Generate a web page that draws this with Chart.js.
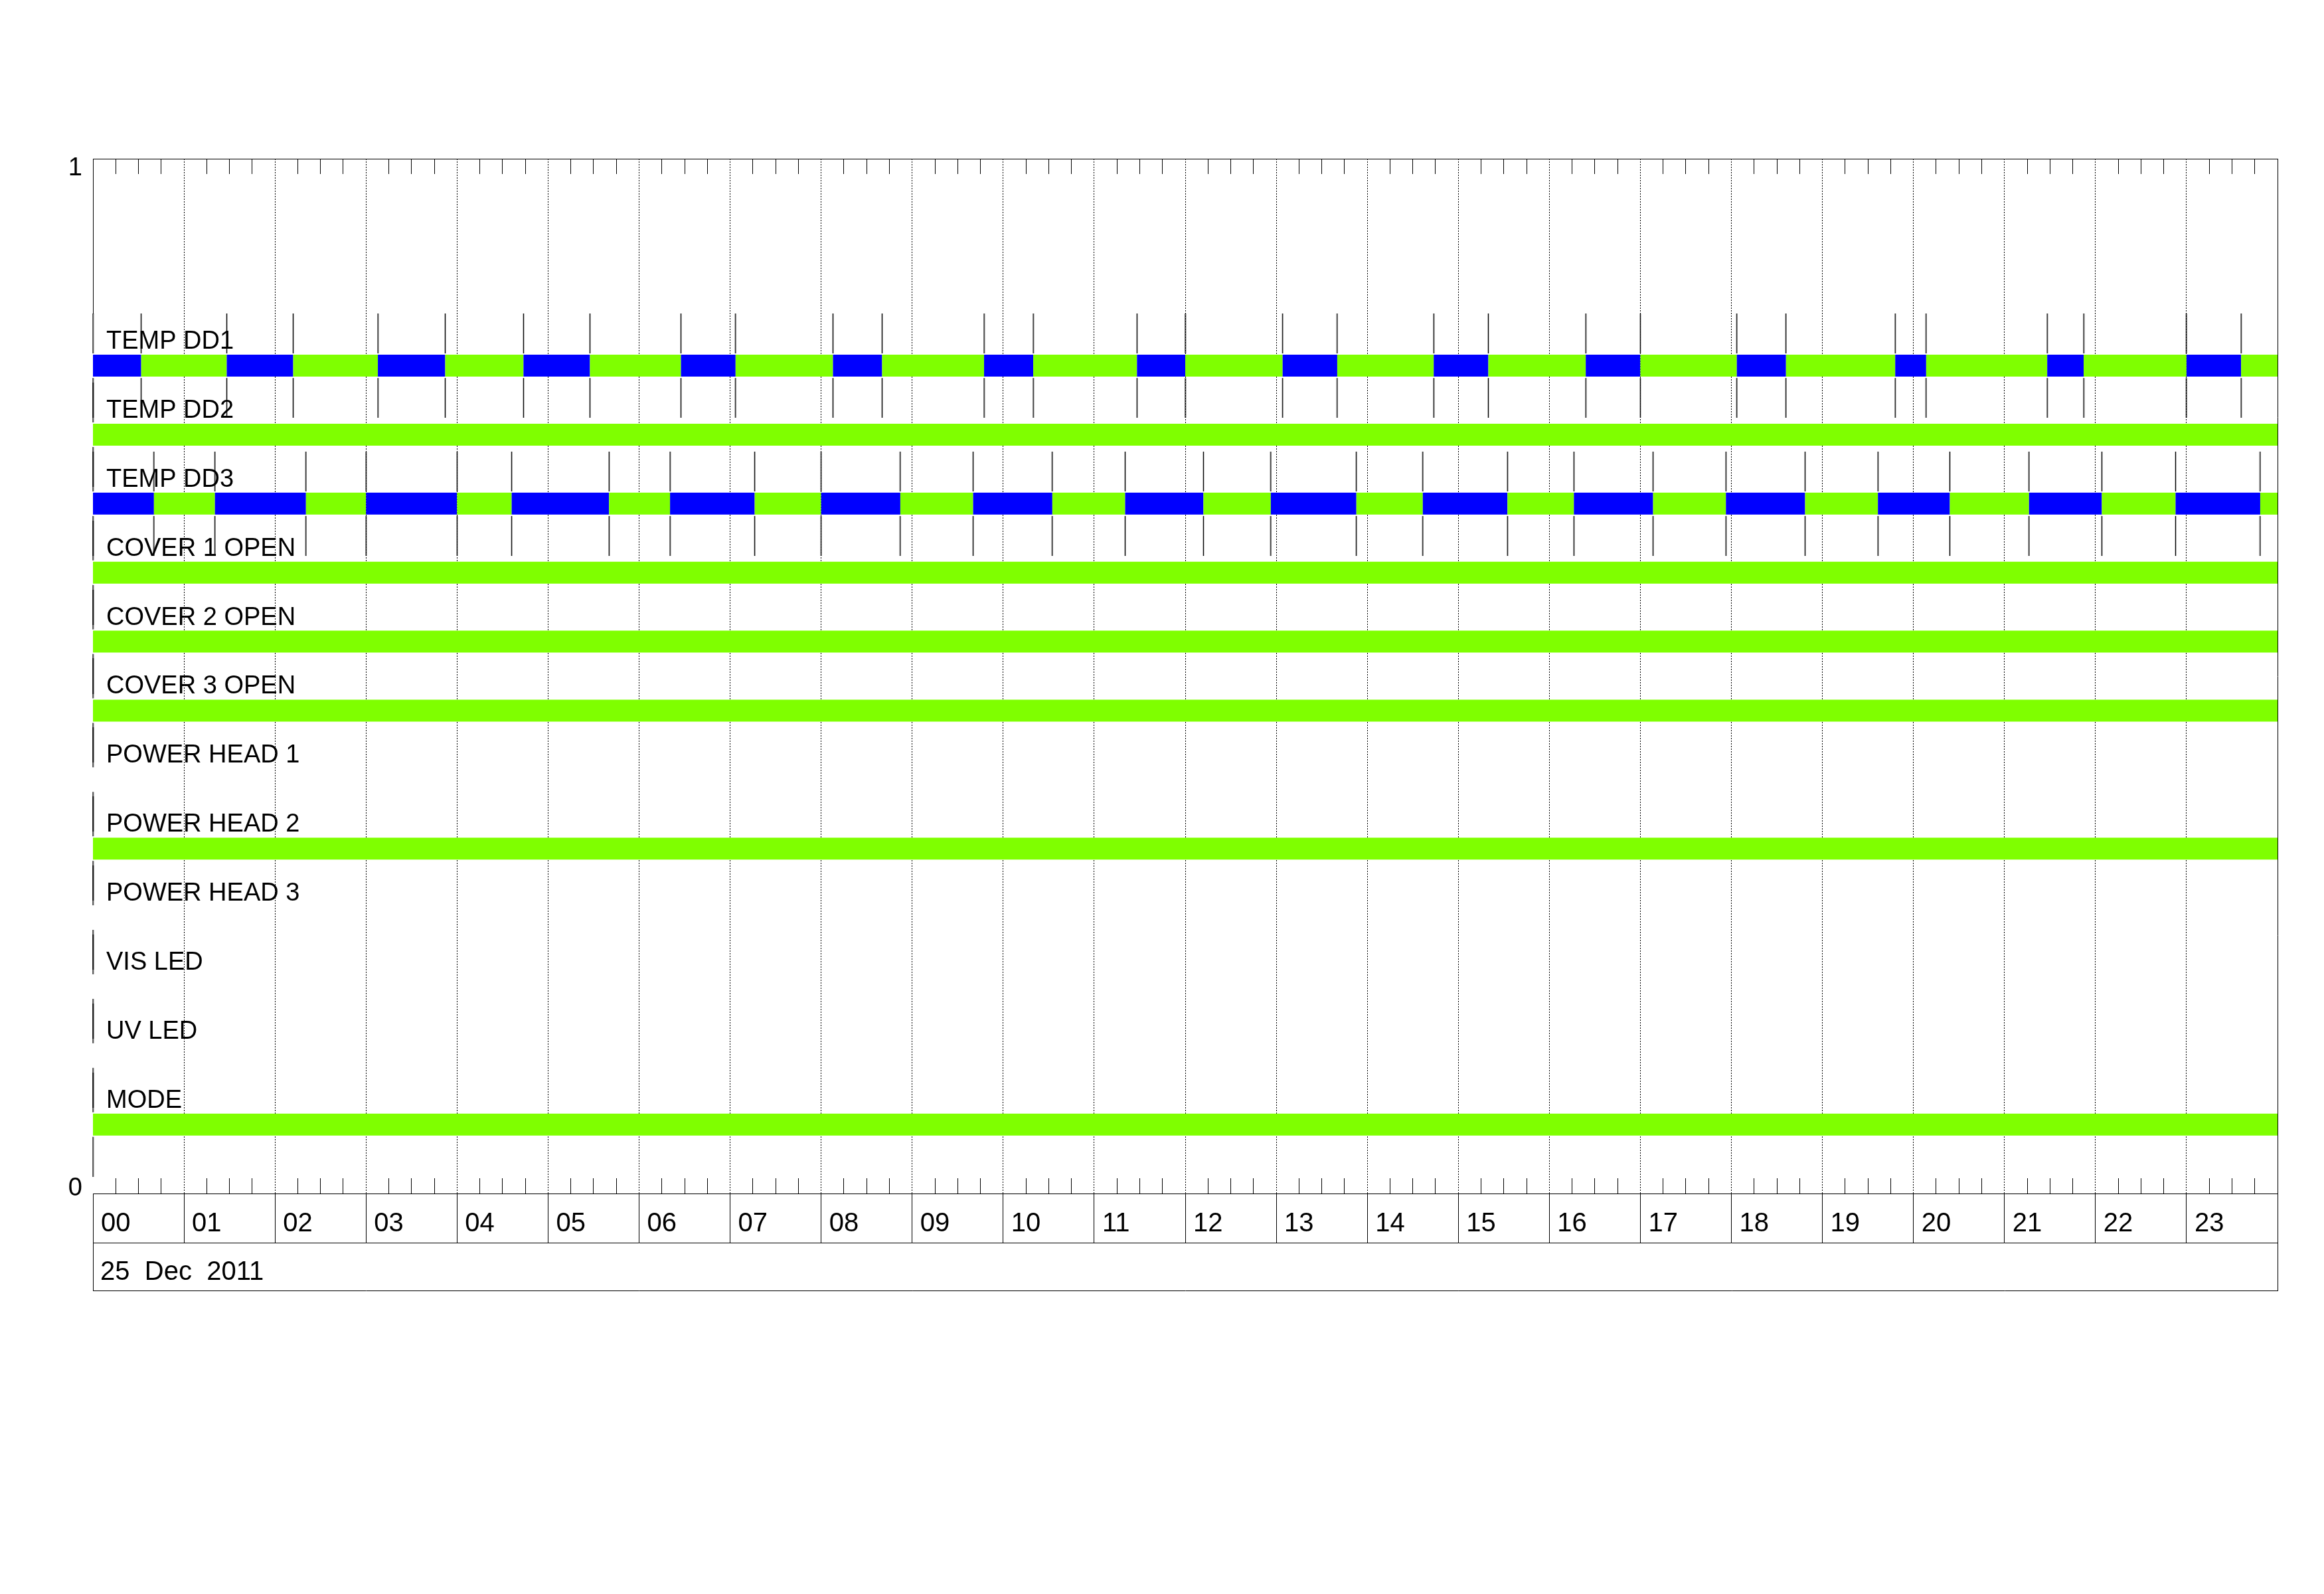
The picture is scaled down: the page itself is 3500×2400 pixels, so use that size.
<!DOCTYPE html>
<html>
<head>
<meta charset="utf-8">
<title>Channel states - 25 Dec 2011</title>
<script src="https://cdn.jsdelivr.net/npm/chart.js@4.4.1/dist/chart.umd.min.js"></script>
<style>
  html, body { margin: 0; padding: 0; background: #fff; }
  canvas { display: block; }
</style>
</head>
<body>
<canvas id="stateChart" width="3500" height="2400"></canvas>
<script>
// ================= DATA =================

const channels = [
    'TEMP DD1', 'TEMP DD2', 'TEMP DD3',
    'COVER 1 OPEN', 'COVER 2 OPEN', 'COVER 3 OPEN',
    'POWER HEAD 1', 'POWER HEAD 2', 'POWER HEAD 3',
    'VIS LED', 'UV LED', 'MODE'
];

// state at 00:00 -> 'on' (green), 'off' (blue), '' (no trace)
const startStates = ['off', 'on', 'off', 'on', 'on', 'on', '', 'on', '', '', '', 'on'];

// hours at which the channel toggles
const dd1Toggles = [0.53, 1.47, 2.20, 3.13, 3.87, 4.73, 5.46, 6.46, 7.06, 8.13,
    8.67, 9.79, 10.33, 11.47, 12.00, 13.07, 13.67, 14.73, 15.33, 16.40,
    17.00, 18.06, 18.60, 19.80, 20.14, 21.47, 21.87, 23.00, 23.60];
const dd3Toggles = [0.67, 1.34, 2.34, 3.00, 4.00, 4.60, 5.67, 6.34, 7.27, 8.00,
    8.87, 9.67, 10.54, 11.34, 12.20, 12.94, 13.88, 14.61, 15.54, 16.27,
    17.14, 17.94, 18.81, 19.61, 20.40, 21.27, 22.07, 22.88, 23.81];
const toggles = [dd1Toggles, [], dd3Toggles, [], [], [], [], [], [], [], [], []];

const hourLabels = ['00', '01', '02', '03', '04', '05', '06', '07', '08', '09', '10', '11',
    '12', '13', '14', '15', '16', '17', '18', '19', '20', '21', '22', '23'];
const yLabels = ['0', '1'];
const dayLabel = '25  Dec  2011';

// ================= HELPERS =================

const rowSlots = 15;            // 12 channels + empty space at the top
const level = i => (channels.length - i) / rowSlots;
const stateColors = { on: '#7fff00', off: '#0000ff' };
const BAR = 33;                 // trace thickness, px
const MARK_HALF = 78;           // half length of a toggle mark, px

function stateAt(i, seg) {
    if (seg % 2 === 0) return startStates[i];
    return startStates[i] === 'on' ? 'off' : 'on';
}

// toggle mark: a thin vertical line with a gap where the trace sits
function makeMark() {
    const c = document.createElement('canvas');
    c.width = 3;
    c.height = MARK_HALF * 2 + 1;
    const g = c.getContext('2d');
    g.fillStyle = '#000';
    const gap = Math.ceil(BAR / 2) + 1;
    g.fillRect(0.75, 0, 1.5, MARK_HALF - gap);
    g.fillRect(0.75, MARK_HALF + gap + 1, 1.5, MARK_HALF - gap);
    return c;
}

// ================= DATASETS =================

const markPoints = [];
channels.forEach((name, i) => {
    [0, ...toggles[i]].forEach(h => markPoints.push({ x: h, y: level(i) }));
});

const datasets = [{
    type: 'scatter',
    label: 'toggles',
    data: markPoints,
    pointStyle: makeMark(),
    pointRadius: 3,
    clip: false,
    order: 1
}];

channels.forEach((name, i) => {
    if (!startStates[i]) return;
    const hours = [0, ...toggles[i], 24];
    datasets.push({
        type: 'line',
        label: name,
        data: hours.map(h => ({ x: h, y: level(i) })),
        borderWidth: BAR,
        borderCapStyle: 'butt',
        borderColor: stateColors[startStates[i]],
        segment: {
            borderColor: ctx => stateColors[stateAt(i, ctx.p0DataIndex)]
        },
        pointRadius: 0,
        tension: 0,
        fill: false,
        order: 0
    });
});

// ================= FRAME PLUGIN =================

const framePlugin = {
    id: 'frameBoxes',
    afterDraw(chart) {
        const { ctx, chartArea } = chart;
        const x = chart.scales.x;
        const y = chart.scales.y;
        const px = v => Math.round(v) + 0.5;
        const rowBoxTop = x.top + x.options.grid.tickLength;
        const firstMarkTop = y.getPixelForValue(level(0)) - MARK_HALF;

        ctx.save();
        ctx.strokeStyle = '#000';
        ctx.lineWidth = 1;
        ctx.beginPath();
        // left edge above the first channel
        ctx.moveTo(px(chartArea.left), chartArea.top);
        ctx.lineTo(px(chartArea.left), firstMarkTop);
        // hour / date boxes
        ctx.moveTo(x.left, px(rowBoxTop));
        ctx.lineTo(x.right, px(rowBoxTop));
        ctx.moveTo(x.left, px(x.bottom));
        ctx.lineTo(x.right + 1, px(x.bottom));
        ctx.moveTo(px(x.left), x.top);
        ctx.lineTo(px(x.left), x.bottom);
        ctx.moveTo(px(x.right), x.top);
        ctx.lineTo(px(x.right), x.bottom);
        ctx.stroke();
        ctx.restore();
    }
};

// ================= CHART =================

Chart.defaults.font.family = "'Liberation Sans', Arial, sans-serif";
Chart.defaults.color = '#000';

const minorTickColor = ctx => (ctx.tick && ctx.tick.value % 1 === 0) ? 'rgba(0,0,0,0)' : '#000';

new Chart(document.getElementById('stateChart'), {
    type: 'line',
    data: { datasets },
    options: {
        responsive: false,
        animation: false,
        events: [],
        layout: { padding: { top: 239, left: 0, right: 70, bottom: 457 } },
        plugins: {
            legend: { display: false },
            tooltip: { enabled: false }
        },
        scales: {
            x: {
                type: 'linear',
                position: 'bottom',
                weight: 1,
                min: 0,
                max: 24,
                ticks: {
                    stepSize: 1,
                    autoSkip: false,
                    maxRotation: 0,
                    minRotation: 0,
                    align: 'start',
                    labelOffset: 12,
                    padding: -52,
                    font: { size: 40 },
                    callback: v => hourLabels[v] ?? ''
                },
                grid: {
                    color: ctx => (ctx.tick && ctx.tick.value % 24 === 0) ? 'rgba(0,0,0,0)' : '#000',
                    lineWidth: 1,
                    tickLength: 74,
                    tickColor: '#000',
                    tickWidth: 1
                },
                border: { display: true, color: '#000', width: 1, dash: [2, 2] },
                title: {
                    display: true,
                    text: ' ' + dayLabel,
                    align: 'start',
                    font: { size: 40 },
                    padding: { top: 0, bottom: 3 }
                },
                afterFit: s => { s.height = 146; }
            },
            xMinor: {
                type: 'linear',
                position: 'bottom',
                weight: 0,
                min: 0,
                max: 24,
                ticks: { stepSize: 0.25, display: false, autoSkip: false },
                grid: { drawOnChartArea: false, tickLength: -23, tickColor: minorTickColor, tickWidth: 1 },
                border: { display: false },
                afterFit: s => { s.height = 0; }
            },
            xTop: {
                type: 'linear',
                position: 'top',
                min: 0,
                max: 24,
                ticks: { stepSize: 0.25, display: false, autoSkip: false },
                grid: { drawOnChartArea: false, tickLength: -23, tickColor: minorTickColor, tickWidth: 1 },
                border: { display: true, color: '#000', width: 1 },
                afterFit: s => { s.height = 0; }
            },
            y: {
                type: 'linear',
                position: 'left',
                weight: 1,
                min: 0,
                max: 1,
                ticks: {
                    stepSize: 1,
                    padding: 16,
                    labelOffset: 4,
                    font: { size: 38, lineHeight: '22px' },
                    callback: v => v === 1 ? ['', yLabels[1]] : [yLabels[0], '']
                },
                grid: { display: false, drawTicks: false },
                border: { display: false },
                afterFit: s => { s.width = 140; }
            },
            yRows: {
                type: 'linear',
                position: 'left',
                weight: 0,
                min: 0,
                max: 1,
                afterBuildTicks: s => { s.ticks = channels.map((c, i) => ({ value: level(i) })); },
                ticks: {
                    mirror: true,
                    padding: 20,
                    labelOffset: -36,
                    font: { size: 38 },
                    callback: (v, i) => channels[i]
                },
                grid: { display: false, drawTicks: false },
                border: { display: false },
                afterFit: s => { s.width = 0; }
            },
            yRight: {
                type: 'linear',
                position: 'right',
                min: 0,
                max: 1,
                ticks: { display: false },
                grid: { display: false, drawTicks: false },
                border: { display: true, color: '#000', width: 1 },
                afterFit: s => { s.width = 0; }
            }
        }
    },
    plugins: [framePlugin]
});
</script>
</body>
</html>
